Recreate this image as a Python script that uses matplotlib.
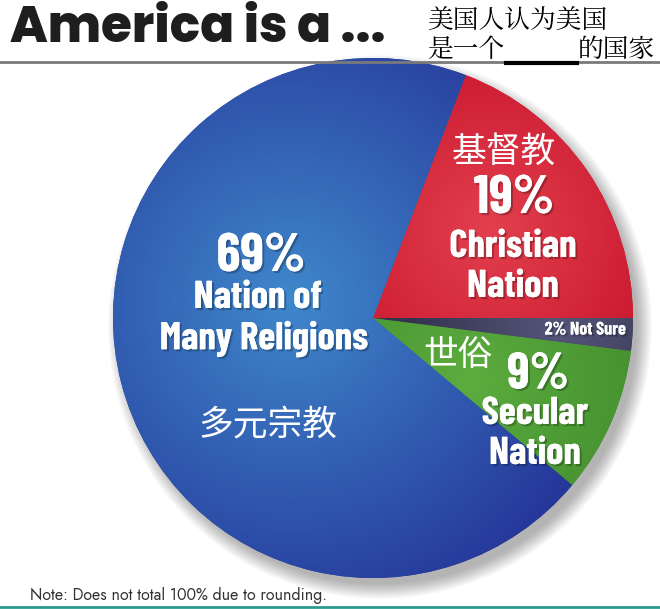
import numpy as np
import matplotlib
matplotlib.use("Agg")
import matplotlib.pyplot as plt
import matplotlib.patheffects as pe
from matplotlib.colors import LinearSegmentedColormap
from matplotlib.patches import Circle

# ---- data ----
labels_en = ["Secular Nation", "Not Sure", "Christian Nation", "Nation of Many Religions"]
values = [9, 2, 19, 69]
colors_edge = ["#3f8a2c", "#34344e", "#c8142c", "#26389a"]
colors_center = ["#5cac3e", "#55557a", "#e2404e", "#3f88cc"]

W, H = 660, 609
fig = plt.figure(figsize=(W / 100, H / 100), dpi=100)
ax = fig.add_axes([0, 0, 1, 1])

def P(x, y):
    return x, H - y

cx, cy = P(373, 318)
R = 260

# shadow
for k in range(16):
    ax.add_patch(Circle((cx + 7, cy - 9), R + 12 - k, color="#000000", alpha=0.02, lw=0, zorder=0))

wedges, _ = ax.pie(values, colors=colors_edge, startangle=-40, radius=R,
                   center=(cx, cy), frame=True, wedgeprops=dict(lw=0))

# radial gradients clipped to wedges
xs = np.linspace(cx - R, cx + R, 400)
ys = np.linspace(cy - R, cy + R, 400)
X, Y = np.meshgrid(xs, ys)
hl = [P(470, 380), P(560, 330), P(490, 230), P(290, 300)]
spread = [220, 150, 200, 330]
for w, ce, cc, h, s in zip(wedges, colors_edge, colors_center, hl, spread):
    d = np.clip(np.hypot(X - h[0], Y - h[1]) / s, 0, 1)
    cmap = LinearSegmentedColormap.from_list("g", [cc, ce])
    im = ax.imshow(d, extent=(cx - R, cx + R, cy - R, cy + R), origin="lower",
                   cmap=cmap, vmin=0, vmax=1, zorder=2, interpolation="bilinear")
    im.set_clip_path(w)

ax.set_xlim(0, W)
ax.set_ylim(0, H)
ax.set_aspect("equal")
ax.axis("off")

shadow = [pe.withSimplePatchShadow(offset=(1.5, -1.5), shadow_rgbFace="#000000", alpha=0.25), pe.Normal()]
cond = ["Barlow Condensed", "Roboto Condensed", "DejaVu Sans"]
bold = dict(color="white", fontweight="bold", family=cond,
            ha="center", va="center", zorder=5, path_effects=shadow)
cjk = dict(color="white", family=["Noto Sans CJK SC", "DejaVu Sans"], ha="center", va="center", zorder=5)

ax.text(*P(261, 257), "69%", fontsize=39, **bold)
ax.text(*P(258, 298), "Nation of", fontsize=28, **bold)
ax.text(*P(264, 339), "Many Religions", fontsize=28, **bold)
ax.text(*P(268, 425), "多元宗教", fontsize=25, **cjk)

ax.text(*P(504, 152), "基督教", fontsize=25, **cjk)
ax.text(*P(514, 199), "19%", fontsize=39, **bold)
ax.text(*P(513, 247), "Christian", fontsize=28, **bold)
ax.text(*P(513, 287), "Nation", fontsize=28, **bold)

ax.text(*P(585, 330), "2% Not Sure", fontsize=13, **bold)

ax.text(*P(458, 356), "世俗", fontsize=25, **cjk)
ax.text(*P(538, 375), "9%", fontsize=37, **bold)
ax.text(*P(535, 414), "Secular", fontsize=28, **bold)
ax.text(*P(535, 454), "Nation", fontsize=28, **bold)

# title
ax.text(*P(10, 30), "America is a ...", fontsize=36, fontweight="heavy", color="#1e1e1e",
        family=["Poppins", "DejaVu Sans"], ha="left", va="center")
serif = ["Noto Serif CJK JP", "Noto Serif CJK SC", "Noto Sans CJK SC", "DejaVu Sans"]
ax.text(*P(427, 22), "美国人认为美国", fontsize=18.5, color="black", family=serif, ha="left", va="center")
ax.text(*P(427, 50), "是一个", fontsize=18.5, color="black", family=serif, ha="left", va="center")
ax.text(*P(578, 50), "的国家", fontsize=18.5, color="black", family=serif, ha="left", va="center")
ax.plot([506, 577], [P(0, 62.5)[1]] * 2, color="black", lw=3, zorder=6)

ax.plot([0, W], [P(0, 62)[1]] * 2, color="#7a7a7a", lw=2, zorder=4)
ax.plot([0, W], [P(0, 607)[1]] * 2, color="#2a9a90", lw=2)

ax.text(*P(30, 596), "Note: Does not total 100% due to rounding.", fontsize=11.5, color="#333333",
        family=["Jost", "DejaVu Sans"], ha="left", va="center")

fig.savefig("out.png", dpi=100)
